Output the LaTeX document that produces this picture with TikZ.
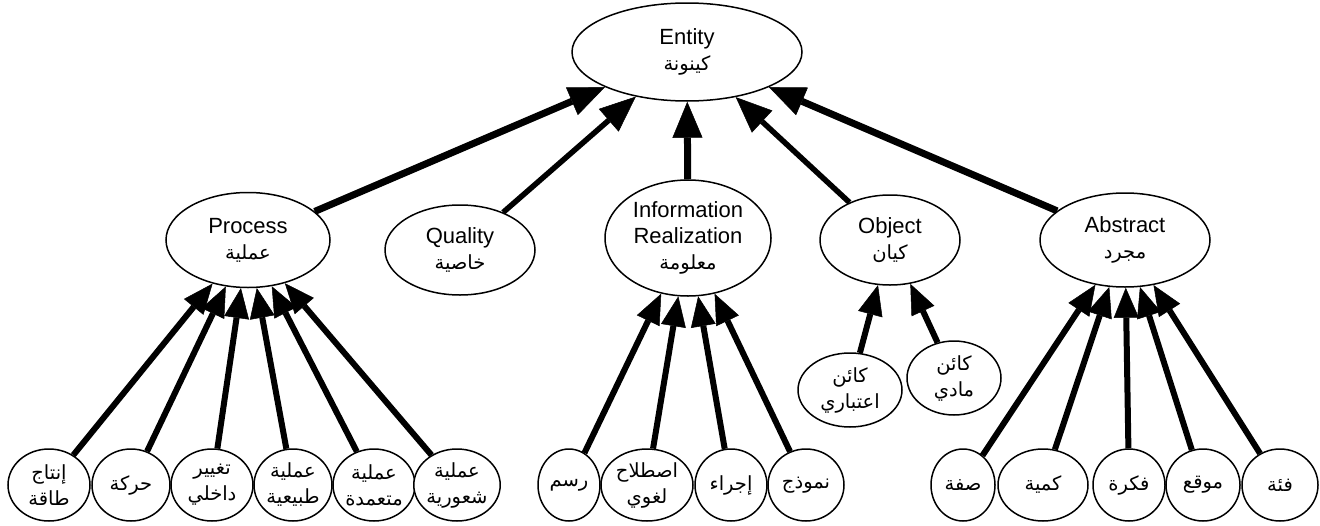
\documentclass[tikz,border=0pt]{standalone}
\usepackage{fontspec}
\setmainfont{Liberation Sans}
\newfontfamily\arabicfont[Script=Arabic]{DejaVu Sans}
\TeXXeTstate=1
\usetikzlibrary{shapes.geometric,arrows.meta}
\newcommand{\ar}[1]{{\arabicfont\fontsize{19.5}{27}\selectfont\beginR #1\endR}}
\begin{document}
\begin{tikzpicture}[x=1pt,y=-1pt,
  nd/.style={draw,ellipse,fill=white,line width=1.5pt,inner sep=0pt,align=center,
    font=\fontsize{22}{26}\selectfont},
  leaf/.style={nd,minimum height=72pt},
  bigarr/.style={line width=7pt,-{Triangle[length=36pt,width=30pt,line width=0.5pt]}},
  midarr/.style={line width=5.5pt,-{Triangle[length=36pt,width=30pt,line width=0.5pt]}},
  smallarr/.style={line width=6pt,-{Triangle[length=30pt,width=25pt,line width=0.5pt]}}
]
\useasboundingbox (0,0) rectangle (1320,525);

% top
\node[nd,minimum width=230pt,minimum height=98pt] (entity) at (687,52) {Entity\\\ar{كينونة}};

% second level
\node[nd,minimum width=164pt,minimum height=95pt] (process) at (248,240) {Process\\\ar{عملية}};
\node[nd,minimum width=150pt,minimum height=90pt] (quality) at (460,250) {Quality\\\ar{خاصية}};
\node[nd,minimum width=166pt,minimum height=116pt] (info) at (688,238) {Information\\Realization\\\ar{معلومة}};
\node[nd,minimum width=140pt,minimum height=90pt] (object) at (890,240) {Object\\\ar{كيان}};
\node[nd,minimum width=170pt,minimum height=94pt] (abstract) at (1125,240) {Abstract\\\ar{مجرد}};

% object children
\node[nd,minimum width=104pt,minimum height=74pt] (o1) at (850,390) {\ar{كائن}\\\ar{اعتباري}};
\node[nd,minimum width=94pt,minimum height=74pt] (o2) at (954,378) {\ar{كائن}\\\ar{مادي}};

% process children
\node[leaf,minimum width=82pt] (p1) at (49,485) {\ar{إنتاج}\\\ar{طاقة}};
\node[leaf,minimum width=78pt] (p2) at (131,485) {\ar{حركة}};
\node[leaf,minimum width=82pt] (p3) at (212,485) {\ar{تغيير}\\\ar{داخلي}};
\node[leaf,minimum width=78pt] (p4) at (293,485) {\ar{عملية}\\\ar{طبيعية}};
\node[leaf,minimum width=82pt] (p5) at (374,485) {\ar{عملية}\\\ar{متعمدة}};
\node[leaf,minimum width=82pt] (p6) at (457,485) {\ar{عملية}\\\ar{شعورية}};

% info children
\node[leaf,minimum width=62pt] (i1) at (569,485) {\ar{رسم}};
\node[leaf,minimum width=92pt] (i2) at (647,485) {\ar{اصطلاح}\\\ar{لغوي}};
\node[leaf,minimum width=72pt] (i3) at (731,485) {\ar{إجراء}};
\node[leaf,minimum width=76pt] (i4) at (806,485) {\ar{نموذج}};

% abstract children
\node[leaf,minimum width=64pt] (a1) at (963,485) {\ar{صفة}};
\node[leaf,minimum width=90pt] (a2) at (1043,485) {\ar{كمية}};
\node[leaf,minimum width=72pt] (a3) at (1129,485) {\ar{فكرة}};
\node[leaf,minimum width=74pt] (a4) at (1203,485) {\ar{موقع}};
\node[leaf,minimum width=76pt] (a5) at (1280,485) {\ar{فئة}};

% connectors
\draw[bigarr] (process) -- (entity);
\draw[midarr] (quality) -- (entity);
\draw[bigarr] (info) -- (entity);
\draw[midarr] (object) -- (entity);
\draw[bigarr] (abstract) -- (entity);

\foreach \c in {p1,p2,p3,p4,p5,p6} \draw[smallarr] (\c) -- (process);
\foreach \c in {i1,i2,i3,i4} \draw[smallarr] (\c) -- (info);
\foreach \c in {o1,o2} \draw[smallarr] (\c) -- (object);
\foreach \c in {a1,a2,a3,a4,a5} \draw[smallarr] (\c) -- (abstract);
\end{tikzpicture}
\end{document}
